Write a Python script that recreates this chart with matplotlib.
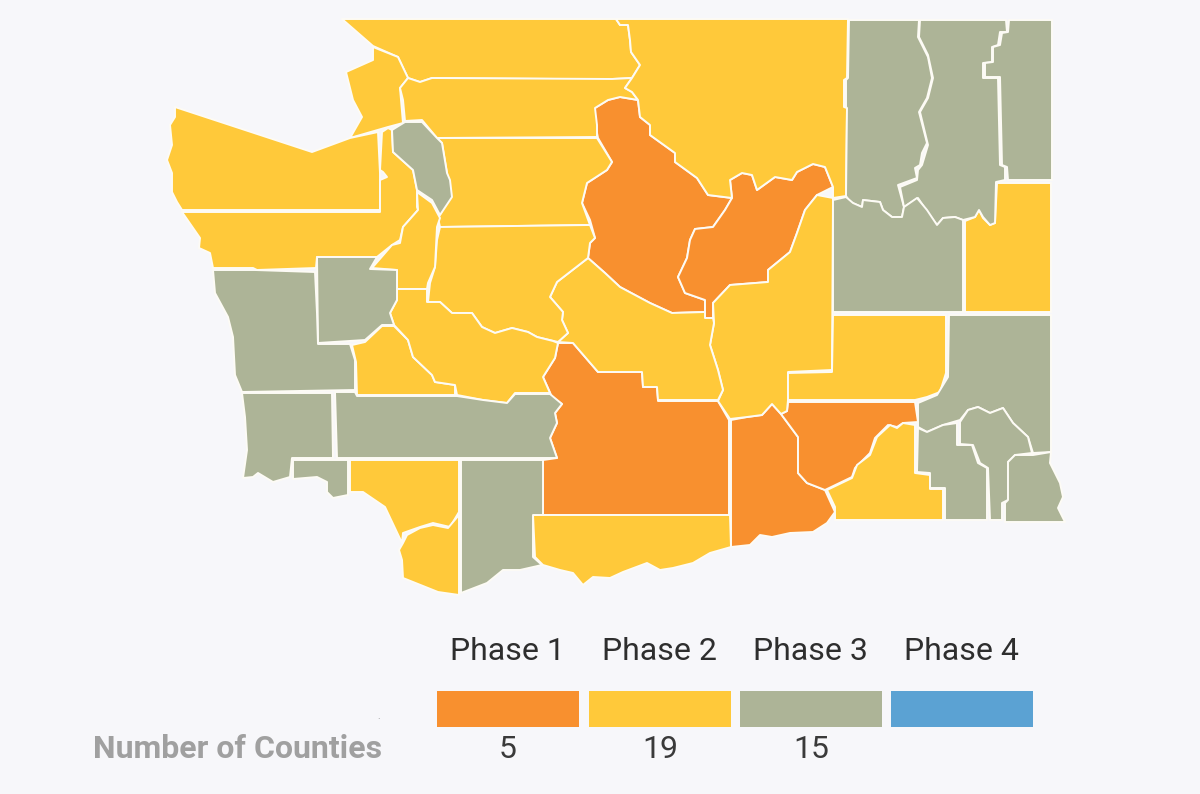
import matplotlib
matplotlib.use("Agg")
import matplotlib.pyplot as plt
from matplotlib.patches import Rectangle

# phase legend
PHASES = ["Phase 1", "Phase 2", "Phase 3", "Phase 4"]
COUNTS = ["5", "19", "15", ""]
ORANGE = "#f8902f"
YELLOW = "#ffc93a"
SAGE = "#adb497"
BLUE = "#5ba2d3"
PHASE_COLORS = [ORANGE, YELLOW, SAGE, BLUE]
BACKGROUND = "#f7f7fa"

WHATCOM = [(342,19),(616,19),(620,25),(628,25),(630,40),(631,52),(640,65),(632,78),(612,79),(560,79),(432,78),(420,82),(408,78),(398,57),(373,46)]
SAN_JUAN = [(373,47),(398,57),(408,78),(400,88),(403,123),(388,127),(350,138),(362,117),(353,100),(346,72),(373,60)]
SKAGIT = [(400,88),(408,78),(420,82),(432,78),(612,79),(632,78),(625,88),(632,92),(638,100),(620,97),(608,100),(595,108),(597,125),(597,137),(437,138),(422,120),(405,121),(403,100)]
OKANOGAN = [(616,19),(848,19),(847,78),(844,80),(844,107),(847,108),(846,196),(833,198),(833,187),(825,167),(813,164),(797,172),(792,180),(775,177),(757,190),(752,175),(742,173),(730,180),(732,198),(708,195),(697,178),(675,162),(675,153),(650,135),(650,125),(640,117),(638,100),(632,92),(625,88),(632,78),(640,65),(631,52),(630,40),(628,25),(620,25)]
CHELAN = [(638,100),(640,117),(650,125),(650,135),(675,153),(675,162),(697,178),(708,195),(732,198),(725,210),(713,227),(695,229),(690,240),(687,258),(678,277),(685,293),(705,300),(705,312),(672,313),(650,303),(620,287),(605,273),(588,258),(590,243),(595,238),(590,220),(582,203),(587,183),(607,170),(612,162),(598,138),(595,123),(595,108),(608,100),(620,97)]
DOUGLAS = [(730,180),(742,173),(752,175),(757,190),(775,177),(792,180),(797,172),(813,164),(825,167),(833,187),(817,195),(805,210),(797,233),(790,252),(768,270),(768,282),(730,285),(713,303),(713,318),(705,318),(705,300),(685,293),(678,277),(687,258),(690,240),(695,229),(713,227),(725,210),(732,198)]
GRANT = [(833,198),(832,370),(788,372),(788,400),(787,411),(781,414),(772,404),(762,415),(747,417),(730,419),(718,401),(723,390),(718,370),(710,345),(714,323),(713,303),(730,285),(768,282),(768,270),(790,252),(797,233),(805,210),(817,195)]
KITTITAS = [(588,258),(605,273),(620,287),(650,303),(672,313),(705,312),(705,318),(713,318),(714,323),(710,345),(718,370),(723,390),(718,400),(658,400),(657,387),(643,387),(642,372),(598,372),(573,343),(558,342),(568,333),(562,320),(563,312),(550,297),(557,282)]
SNOHOMISH = [(437,138),(597,138),(612,162),(607,170),(587,183),(582,203),(590,225),(440,227),(438,218),(450,197),(447,173),(442,143)]
KING = [(440,227),(590,225),(595,238),(590,243),(588,258),(557,282),(550,297),(563,312),(562,320),(568,333),(558,342),(537,337),(528,332),(512,328),(495,333),(482,327),(472,313),(452,313),(440,302),(428,302),(430,283),(435,267),(437,240)]
ISLAND = [(392,130),(405,122),(422,122),(437,138),(442,143),(447,173),(450,180),(452,197),(440,215),(432,200),(417,190),(413,170),(393,152)]
CLALLAM = [(175,107),(312,152),(350,138),(378,132),(380,173),(380,210),(317,210),(182,210),(177,202),(172,192),(172,173),(167,160),(172,145),(170,125),(175,117)]
JEFFERSON = [(382,132),(388,128),(392,130),(393,152),(413,170),(417,190),(417,207),(418,210),(403,227),(400,240),(392,245),(377,257),(317,257),(316,268),(257,270),(253,268),(213,268),(210,253),(199,248),(200,238),(182,212),(317,212),(380,212),(380,180),(387,177),(383,172),(380,170)]
KITSAP = [(417,192),(432,203),(440,218),(437,227),(435,267),(428,283),(427,289),(397,289),(397,270),(372,268),(392,245),(400,243),(403,227),(418,210)]
MASON = [(317,257),(377,257),(370,269),(397,270),(397,300),(390,313),(394,325),(382,325),(365,340),(318,343)]
GRAYS_HARBOR = [(213,270),(255,270),(315,272),(317,313),(318,344),(350,344),(355,360),(355,390),(242,392),(235,375),(233,337),(228,317),(215,293)]
THURSTON = [(352,345),(365,342),(382,326),(394,326),(408,340),(413,357),(432,375),(435,382),(455,385),(455,395),(357,395),(356,362)]
PIERCE = [(397,289),(427,289),(427,302),(440,302),(452,313),(472,313),(482,327),(495,333),(512,328),(528,332),(537,337),(553,341),(558,343),(555,358),(543,377),(550,393),(515,393),(507,403),(483,400),(457,395),(455,385),(435,382),(432,375),(413,357),(408,340),(394,325),(390,313),(397,300)]
PACIFIC = [(242,393),(332,393),(333,458),(292,458),(290,477),(273,482),(258,473),(253,477),(243,478),(247,450),(245,417)]
WAHKIAKUM = [(293,460),(348,460),(348,495),(333,498),(327,492),(327,482),(317,477),(293,479)]
LEWIS = [(335,392),(355,392),(357,396),(457,396),(483,400),(507,403),(515,394),(550,394),(562,404),(555,413),(557,423),(550,438),(557,458),(337,458)]
COWLITZ = [(350,460),(459,460),(459,512),(450,527),(433,523),(420,527),(403,533),(402,543),(385,507),(363,492),(350,492)]
CLARK = [(403,543),(407,535),(420,528),(433,525),(448,528),(459,515),(459,595),(438,592),(403,578),(402,560),(399,550)]
SKAMANIA = [(461,460),(543,460),(543,515),(533,515),(533,557),(542,565),(520,570),(503,570),(487,583),(461,593)]
YAKIMA = [(558,343),(573,343),(598,372),(642,372),(643,387),(657,387),(658,401),(718,401),(729,420),(729,515),(543,515),(543,460),(557,458),(550,438),(557,423),(555,413),(562,404),(552,397),(543,377),(555,358)]
KLICKITAT = [(533,515),(730,515),(731,547),(710,553),(693,563),(673,568),(660,570),(647,563),(623,572),(610,578),(593,577),(583,585),(573,573),(560,570),(543,565),(535,557)]
BENTON = [(731,420),(747,417),(762,415),(772,404),(781,414),(798,437),(798,473),(807,483),(825,490),(835,512),(827,523),(813,532),(790,533),(772,537),(760,535),(750,545),(731,547)]
FRANKLIN = [(788,402),(915,402),(918,422),(903,423),(897,427),(888,425),(875,438),(870,453),(855,468),(852,477),(825,490),(807,483),(798,473),(798,437),(781,414),(787,411)]
WALLA_WALLA = [(827,490),(852,478),(857,465),(870,455),(877,437),(890,425),(897,428),(903,423),(915,425),(915,473),(930,475),(930,489),(943,489),(943,520),(835,520),(835,507)]
ADAMS = [(788,373),(832,372),(833,315),(946,315),(946,373),(940,392),(927,397),(915,400),(788,400)]
WHITMAN = [(949,315),(1051,315),(1051,452),(1033,453),(1028,437),(1013,423),(1003,408),(990,413),(978,407),(968,410),(960,420),(943,425),(927,432),(918,427),(918,403),(937,395),(948,377)]
COLUMBIA = [(918,428),(927,432),(943,425),(957,423),(957,445),(972,445),(978,463),(987,468),(987,520),(945,520),(945,488),(930,488),(930,473),(917,472)]
GARFIELD = [(960,422),(968,410),(978,407),(990,413),(1003,408),(1013,423),(1028,437),(1032,453),(1015,455),(1008,462),(1008,500),(1002,503),(1002,520),(990,520),(988,468),(980,463),(973,445),(960,444)]
ASOTIN = [(1008,462),(1015,455),(1033,455),(1051,452),(1050,463),(1060,483),(1063,497),(1058,508),(1065,522),(1005,522),(1005,503),(1008,500)]
FERRY = [(849,20),(919,20),(918,37),(928,57),(932,78),(927,98),(919,112),(927,143),(922,153),(920,165),(915,168),(917,178),(898,185),(904,207),(902,217),(892,217),(883,210),(880,202),(863,200),(862,207),(850,202),(846,196),(847,108),(846,107),(846,80),(848,78)]
STEVENS = [(920,20),(1006,20),(1007,32),(1000,32),(998,45),(992,47),(992,62),(983,63),(983,78),(998,78),(1000,165),(1005,167),(1005,180),(996,182),(995,223),(990,225),(983,217),(979,210),(975,217),(963,220),(955,217),(943,218),(937,225),(928,213),(918,198),(904,207),(900,187),(917,180),(918,170),(922,165),(928,145),(920,112),(928,98),(933,78),(928,55),(919,37)]
PEND_OREILLE = [(1009,20),(1052,20),(1052,180),(1008,180),(1007,167),(1002,165),(1000,77),(985,77),(985,63),(993,62),(993,47),(1000,45),(1002,33),(1008,32)]
LINCOLN = [(833,200),(846,197),(853,203),(862,207),(863,200),(880,202),(883,210),(892,217),(902,217),(904,207),(917,198),(927,210),(937,225),(943,218),(955,217),(963,220),(963,312),(833,312)]
SPOKANE = [(965,221),(975,217),(979,210),(983,218),(990,225),(995,223),(997,183),(1051,183),(1051,312),(965,312)]

PHASE_1_COUNTIES = [CHELAN, DOUGLAS, YAKIMA, BENTON, FRANKLIN]
PHASE_2_COUNTIES = [WHATCOM, SAN_JUAN, SKAGIT, OKANOGAN, GRANT, KITTITAS, SNOHOMISH, KING, CLALLAM, JEFFERSON,
                    KITSAP, THURSTON, PIERCE, COWLITZ, CLARK, KLICKITAT, WALLA_WALLA, ADAMS, SPOKANE]
PHASE_3_COUNTIES = [ISLAND, MASON, GRAYS_HARBOR, PACIFIC, WAHKIAKUM, LEWIS, SKAMANIA, WHITMAN, COLUMBIA, GARFIELD,
                    ASOTIN, FERRY, STEVENS, PEND_OREILLE, LINCOLN]

plt.rcParams["font.family"] = ["Roboto", "DejaVu Sans"]

fig = plt.figure(figsize=(12, 7.94), dpi=100, facecolor=BACKGROUND)
ax = fig.add_axes([0, 0, 1, 1])
ax.set_xlim(0, 1200)
ax.set_ylim(794, 0)
ax.axis("off")

# the map
for counties, color in zip([PHASE_1_COUNTIES, PHASE_2_COUNTIES, PHASE_3_COUNTIES], PHASE_COLORS):
    for county in counties:
        xs, ys = zip(*county)
        ax.fill(xs, ys, facecolor=color, edgecolor="#fdfbf5", linewidth=1.4, joinstyle="round", zorder=2)

# legend strip
swatch_left = [437, 589, 740, 891]
swatch_right = [579, 731, 882, 1033]
for i, phase in enumerate(PHASES):
    left, right = swatch_left[i], swatch_right[i]
    ax.add_patch(Rectangle((left, 691), right - left, 36, facecolor=PHASE_COLORS[i], edgecolor="none"))
    mid = (left + right) / 2
    ax.text(mid - 1, 660, phase, ha="center", va="baseline", fontsize=23, color="#2e2e2e")
    if COUNTS[i]:
        ax.text(mid, 758, COUNTS[i], ha="center", va="baseline", fontsize=23, color="#3a3a3a")

ax.text(382, 758, "Number of Counties", ha="right", va="baseline", fontsize=23, fontweight="bold", color="#a0a0a0")
ax.text(379, 716, ".", ha="center", va="center", fontsize=7, color="#909090")

fig.savefig("out.png", dpi=100, facecolor=BACKGROUND)
